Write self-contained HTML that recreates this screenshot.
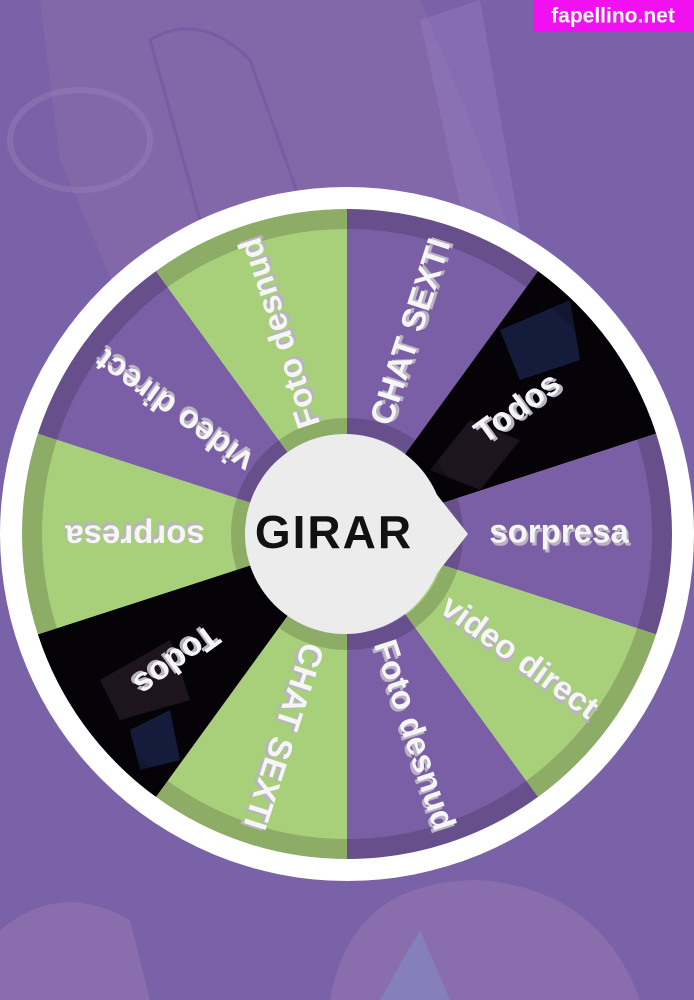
<!DOCTYPE html>
<html><head><meta charset="utf-8"><style>
html,body{margin:0;padding:0;width:694px;height:1000px;overflow:hidden;background:#7a62a8}
svg{display:block}
.t{font-family:"Liberation Sans",sans-serif;font-weight:bold;font-size:33px;fill:#f6f6f6;dominant-baseline:middle;text-anchor:middle}
.s{font-family:"Liberation Sans",sans-serif;font-weight:bold;font-size:33px;fill:#b9b3c4;dominant-baseline:middle;text-anchor:middle}
</style></head><body>
<svg width="694" height="1000" viewBox="0 0 694 1000" xmlns="http://www.w3.org/2000/svg">
<rect width="694" height="1000" fill="#7a62a8"/>
<path d="M40 0 L420 0 L470 120 L520 260 L120 300 L60 160 Z" fill="#8a6ea8" opacity="0.5"/>
<path d="M150 40 Q200 10 250 60 L300 200 L200 220 Z" fill="none" stroke="#6a52a0" stroke-width="3" opacity="0.5"/>
<path d="M420 20 L480 0 L520 230 L470 250 Z" fill="#9a84c8" opacity="0.35"/>
<ellipse cx="80" cy="140" rx="70" ry="50" fill="none" stroke="#9a82b8" stroke-width="6" opacity="0.4"/>
<path d="M0 1000 L0 930 Q60 880 130 920 L150 1000 Z" fill="#9a78b0" opacity="0.5"/>
<path d="M330 1000 Q350 880 480 880 Q600 890 640 1000 Z" fill="#9a78b0" opacity="0.5"/>
<path d="M380 1000 L420 930 L450 1000 Z" fill="#7f94cc" opacity="0.5"/>
<circle cx="347" cy="534" r="347" fill="#ffffff"/>
<path d="M347 534 L347 209 A325 325 0 0 1 538 271.1 Z" fill="#7a5fa6"/>
<path d="M347 534 L538 271.1 A325 325 0 0 1 656.1 433.6 Z" fill="#050308"/>
<path d="M347 534 L656.1 433.6 A325 325 0 0 1 656.1 634.4 Z" fill="#7a5fa6"/>
<path d="M347 534 L656.1 634.4 A325 325 0 0 1 538 796.9 Z" fill="#a8cf7a"/>
<path d="M347 534 L538 796.9 A325 325 0 0 1 347 859 Z" fill="#7a5fa6"/>
<path d="M347 534 L347 859 A325 325 0 0 1 156 796.9 Z" fill="#a8cf7a"/>
<path d="M347 534 L156 796.9 A325 325 0 0 1 37.9 634.4 Z" fill="#050308"/>
<path d="M347 534 L37.9 634.4 A325 325 0 0 1 37.9 433.6 Z" fill="#a8cf7a"/>
<path d="M347 534 L37.9 433.6 A325 325 0 0 1 156 271.1 Z" fill="#7a5fa6"/>
<path d="M347 534 L156 271.1 A325 325 0 0 1 347 209 Z" fill="#a8cf7a"/>
<g opacity="0.45">
<path d="M500 330 L570 300 L580 360 L520 380 Z" fill="#2a3a7a"/>
<path d="M430 470 L470 420 L520 440 L480 490 Z" fill="#3a2a3a"/>
<path d="M100 680 L170 640 L190 700 L120 720 Z" fill="#3a2a3a"/>
<path d="M130 730 L170 710 L180 760 L140 770 Z" fill="#2a3a7a"/>
</g>
<circle cx="347" cy="534" r="315" fill="none" stroke="#000" stroke-opacity="0.16" stroke-width="20"/>
<circle cx="347" cy="534" r="108" fill="none" stroke="#000" stroke-opacity="0.16" stroke-width="16"/>
<g transform="rotate(-72 347 534)"><text class="s" x="561" y="537">CHAT SEXTI</text><text class="t" x="559" y="534">CHAT SEXTI</text></g>
<g transform="rotate(-36 347 534)"><text class="s" x="561" y="537">Todos</text><text class="t" x="559" y="534">Todos</text></g>
<g transform="rotate(0 347 534)"><text class="s" x="561" y="537">sorpresa</text><text class="t" x="559" y="534">sorpresa</text></g>
<g transform="rotate(36 347 534)"><text class="s" x="561" y="537">video direct</text><text class="t" x="559" y="534">video direct</text></g>
<g transform="rotate(72 347 534)"><text class="s" x="561" y="537">Foto desnud</text><text class="t" x="559" y="534">Foto desnud</text></g>
<g transform="rotate(108 347 534)"><text class="s" x="561" y="537">CHAT SEXTI</text><text class="t" x="559" y="534">CHAT SEXTI</text></g>
<g transform="rotate(144 347 534)"><text class="s" x="561" y="537">Todos</text><text class="t" x="559" y="534">Todos</text></g>
<g transform="rotate(180 347 534)"><text class="s" x="561" y="537">sorpresa</text><text class="t" x="559" y="534">sorpresa</text></g>
<g transform="rotate(216 347 534)"><text class="s" x="561" y="537">video direct</text><text class="t" x="559" y="534">video direct</text></g>
<g transform="rotate(252 347 534)"><text class="s" x="561" y="537">Foto desnud</text><text class="t" x="559" y="534">Foto desnud</text></g>
<path d="M430 486 L468 534 L430 582 Z" fill="#ececec"/>
<circle cx="345" cy="534" r="100" fill="#ececec"/>
<text x="334" y="536" font-family="'Liberation Sans',sans-serif" font-weight="bold" font-size="46" fill="#111" text-anchor="middle" dominant-baseline="middle" letter-spacing="2">GIRAR</text>
<rect x="533" y="0" width="161" height="32" fill="#f010f0"/>
<text x="613" y="17" font-family="'Liberation Sans',sans-serif" font-weight="bold" font-size="21" fill="#fff" text-anchor="middle" dominant-baseline="middle">fapellino.net</text>
</svg>
</body></html>
